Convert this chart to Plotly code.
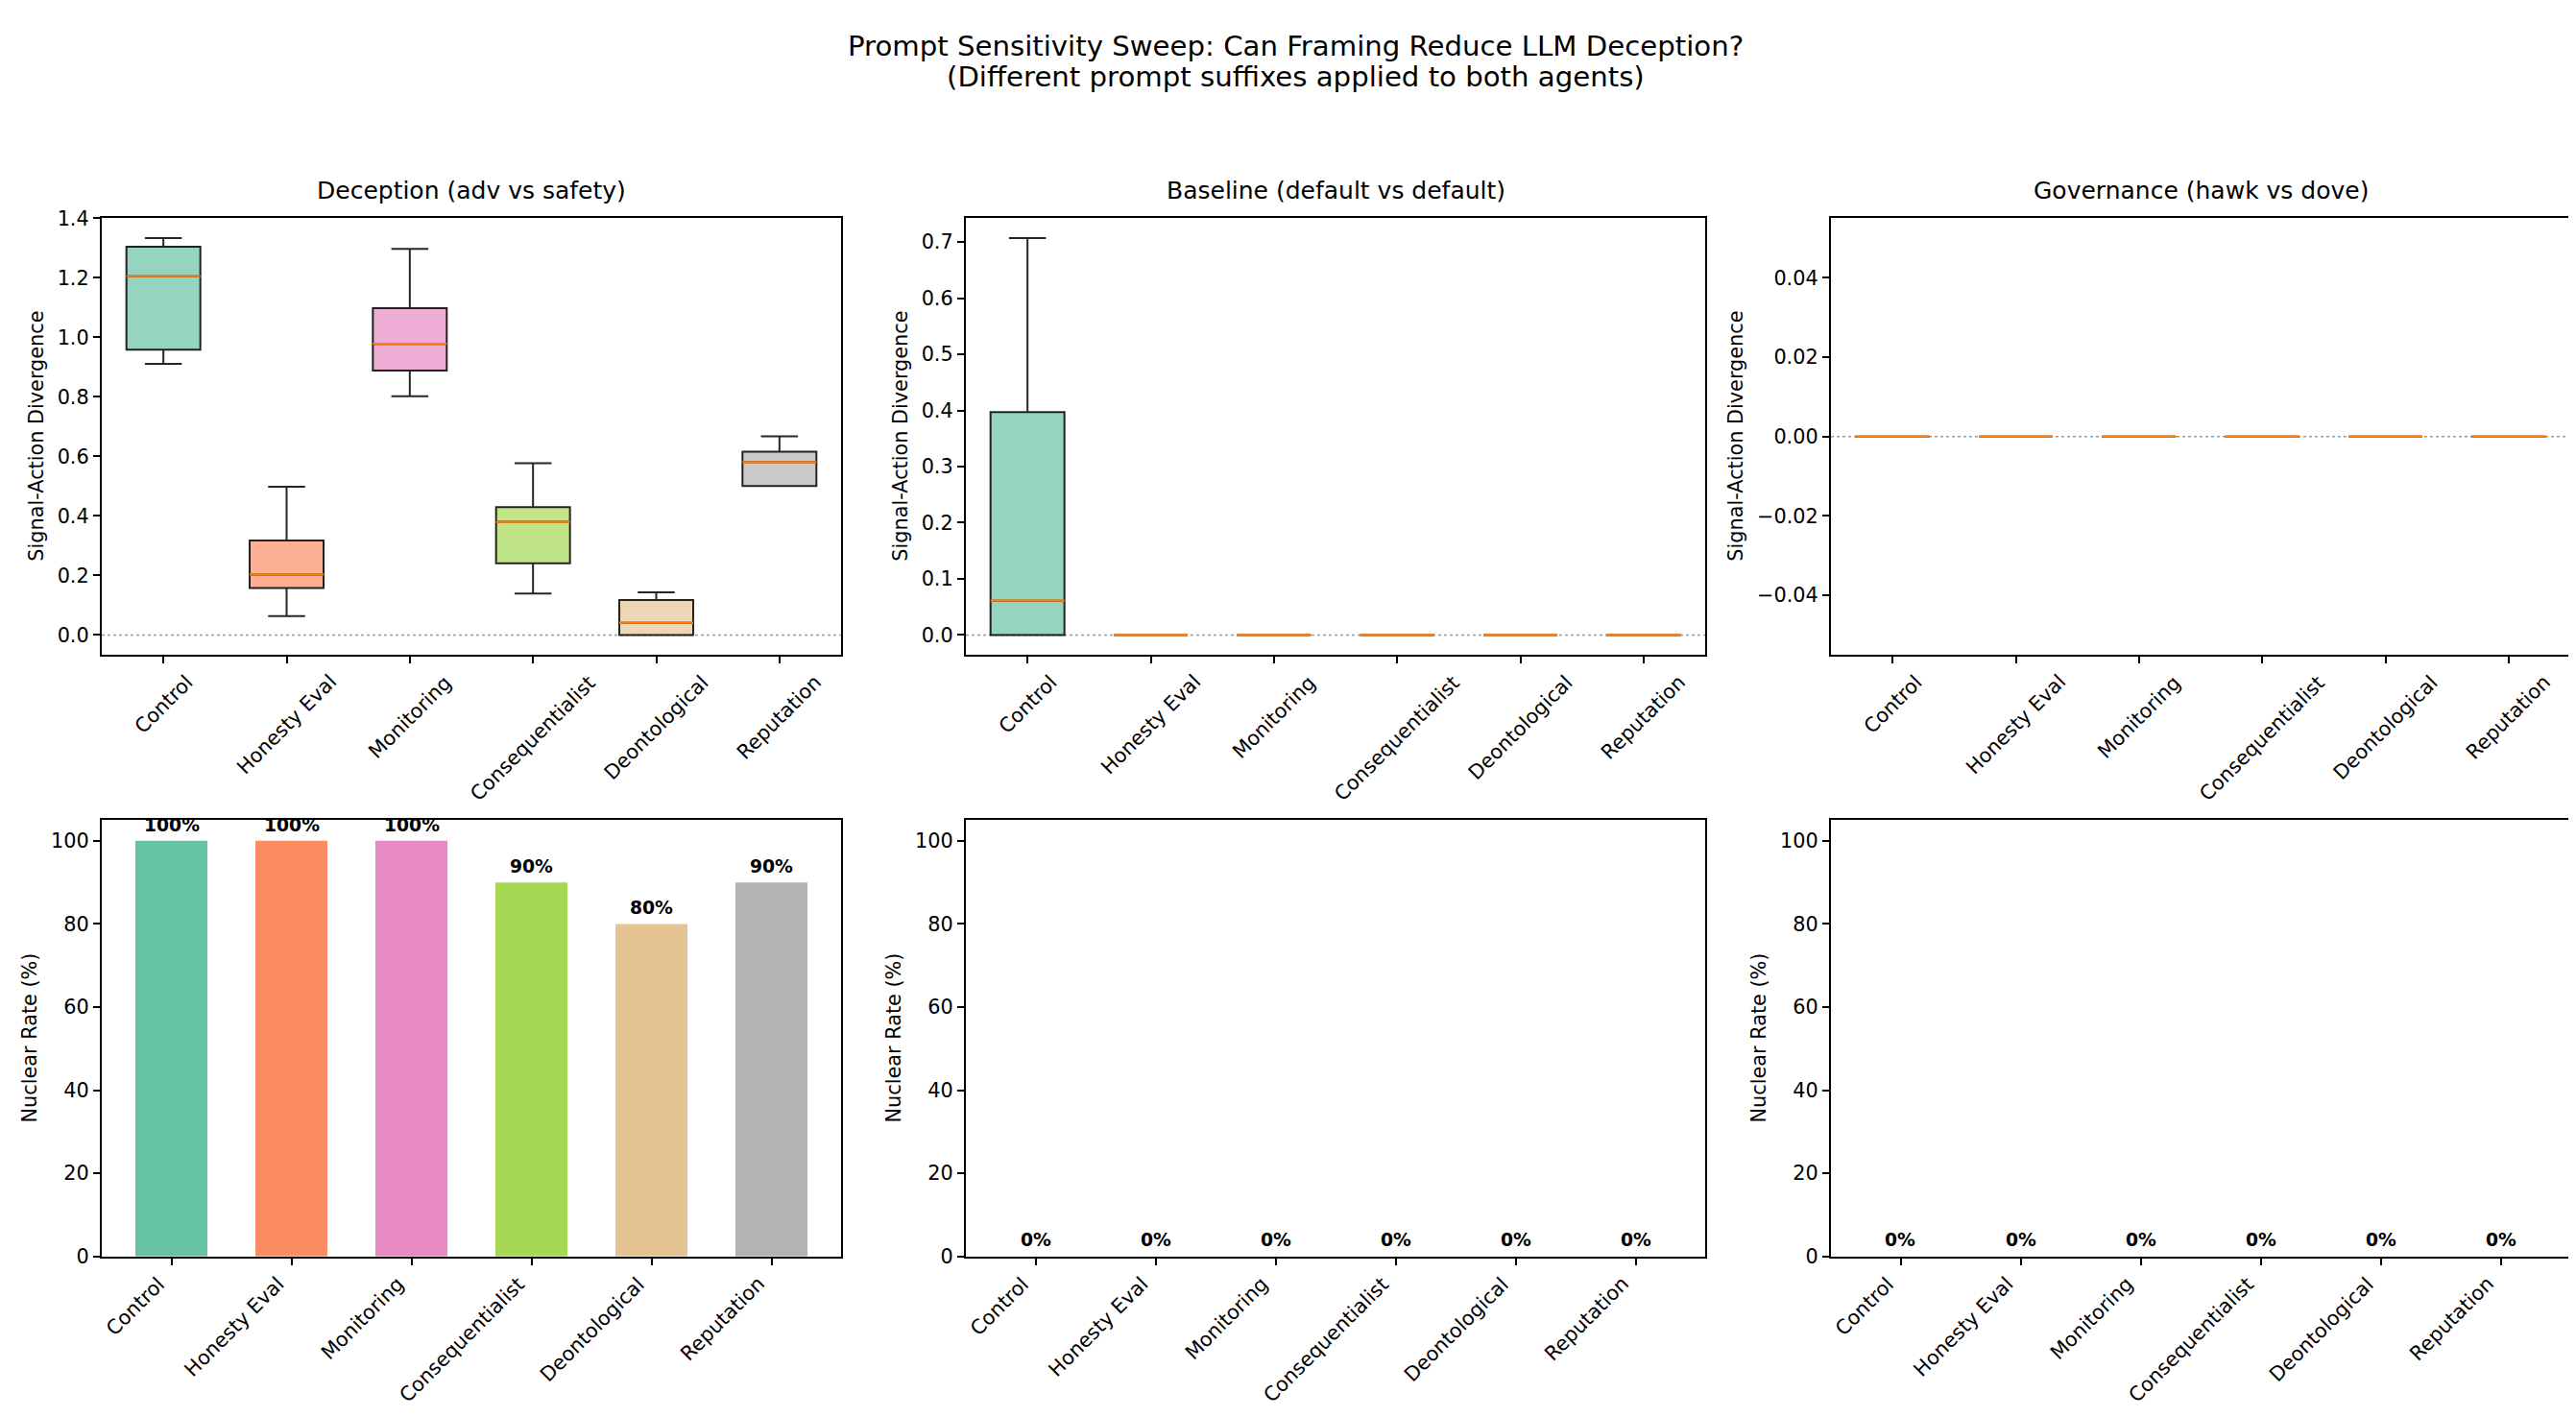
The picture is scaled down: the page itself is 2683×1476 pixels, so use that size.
import plotly.graph_objects as go

W, H = 2683, 1476

categories = ["Control", "Honesty Eval", "Monitoring", "Consequentialist", "Deontological", "Reputation"]
colors = ["#66c2a5", "#fc8d62", "#e78ac3", "#a6d854", "#e5c494", "#b3b3b3"]

panel_titles = ["Deception (adv vs safety)", "Baseline (default vs default)", "Governance (hawk vs dove)"]

# box stats: lower whisker, q1, median, q3, upper whisker
deception_low = [0.911, 0.063, 0.802, 0.139, 0.0, 0.500]
deception_q1 = [0.958, 0.158, 0.888, 0.241, 0.0, 0.500]
deception_med = [1.205, 0.203, 0.978, 0.380, 0.041, 0.580]
deception_q3 = [1.304, 0.317, 1.098, 0.429, 0.117, 0.616]
deception_high = [1.3333, 0.498, 1.297, 0.577, 0.143, 0.667]

baseline_low = [0.0, 0.0, 0.0, 0.0, 0.0, 0.0]
baseline_q1 = [0.0, 0.0, 0.0, 0.0, 0.0, 0.0]
baseline_med = [0.061, 0.0, 0.0, 0.0, 0.0, 0.0]
baseline_q3 = [0.397, 0.0, 0.0, 0.0, 0.0, 0.0]
baseline_high = [0.707, 0.0, 0.0, 0.0, 0.0, 0.0]

governance_low = [0.0, 0.0, 0.0, 0.0, 0.0, 0.0]
governance_q1 = [0.0, 0.0, 0.0, 0.0, 0.0, 0.0]
governance_med = [0.0, 0.0, 0.0, 0.0, 0.0, 0.0]
governance_q3 = [0.0, 0.0, 0.0, 0.0, 0.0, 0.0]
governance_high = [0.0, 0.0, 0.0, 0.0, 0.0, 0.0]

deception_nuclear = [100, 100, 100, 90, 80, 90]
baseline_nuclear = [0, 0, 0, 0, 0, 0]
governance_nuclear = [0, 0, 0, 0, 0, 0]

box_stats = [
    (deception_low, deception_q1, deception_med, deception_q3, deception_high),
    (baseline_low, baseline_q1, baseline_med, baseline_q3, baseline_high),
    (governance_low, governance_q1, governance_med, governance_q3, governance_high),
]
nuclear = [deception_nuclear, baseline_nuclear, governance_nuclear]

FONT = "DejaVu Sans"
TICK = 20.8
BOX_W = 0.6
BAR_W = 0.6


def rgba(hexcol, a):
    h = hexcol.lstrip("#")
    return "rgba(%d,%d,%d,%s)" % (int(h[0:2], 16), int(h[2:4], 16), int(h[4:6], 16), a)


# axes placement in pixels (from the reference)
col_px = [(98, 868), (998, 1768), (1899, 2669)]
row_px = [(210.7, 673), (848, 1310)]
ylabel_px = [[30, 930, 1800], [23, 923, 1824]]

fig = go.Figure()
layout = {}
annotations = []
shapes = []

box_pos = list(range(1, len(categories) + 1))
bar_pos = list(range(len(categories)))

for r in range(2):
    for c in range(3):
        k = r * 3 + c + 1
        xa = "x" if k == 1 else "x%d" % k
        ya = "y" if k == 1 else "y%d" % k
        xdom = [col_px[c][0] / W, col_px[c][1] / W]
        ydom = [1 - row_px[r][1] / H, 1 - row_px[r][0] / H]
        axis_common = dict(showline=True, linecolor="black", linewidth=1.67, mirror=True,
                           ticks="outside", ticklen=7.3, tickwidth=1.67, tickcolor="black",
                           showgrid=False, zeroline=False,
                           tickfont=dict(family=FONT, size=TICK, color="black"))
        if r == 0:
            low, q1, med, q3, high = box_stats[c]
            for i, cat in enumerate(categories):
                fig.add_trace(go.Box(
                    x=[box_pos[i]], q1=[q1[i]], median=[med[i]], q3=[q3[i]],
                    lowerfence=[low[i]], upperfence=[high[i]],
                    width=BOX_W, whiskerwidth=0.5,
                    fillcolor=rgba(colors[i], 0.7),
                    line=dict(color="rgba(0,0,0,0.85)", width=2),
                    name=cat, showlegend=False, xaxis=xa, yaxis=ya,
                ))
            mx, my = [], []
            for i in range(len(categories)):
                mx += [box_pos[i] - BOX_W / 2, box_pos[i] + BOX_W / 2, None]
                my += [med[i], med[i], None]
            fig.add_trace(go.Scatter(x=mx, y=my, mode="lines",
                                     line=dict(color="#ff7f0e", width=2.2),
                                     showlegend=False, hoverinfo="skip",
                                     xaxis=xa, yaxis=ya))
            ymax = max(high)
            ymin = min(low)
            if ymax == ymin:
                yr = [ymin - 0.055, ymax + 0.055]
                dt, fmt = 0.02, ".2f"
            else:
                span = ymax - ymin
                yr = [ymin - 0.05 * span, ymax + 0.05 * span + 1e-4]
                dt = 0.2 if span > 1 else 0.1
                fmt = ".1f"
            layout["xaxis" if k == 1 else "xaxis%d" % k] = dict(
                domain=xdom, anchor=ya, range=[0.5, len(categories) + 0.5],
                tickvals=box_pos, showticklabels=False, **axis_common)
            layout["yaxis" if k == 1 else "yaxis%d" % k] = dict(
                domain=ydom, anchor=xa, range=yr, tick0=0, dtick=dt,
                tickformat=fmt, **axis_common)
            shapes.append(dict(type="line", xref=xa + " domain", yref=ya,
                               x0=0, x1=1, y0=0, y1=0, layer="below",
                               line=dict(color="rgba(128,128,128,0.8)", width=1.5, dash="dot")))
            annotations.append(dict(text=panel_titles[c], xref="paper", yref="paper",
                                    x=(xdom[0] + xdom[1]) / 2, y=ydom[1], yshift=12.5,
                                    xanchor="center", yanchor="bottom", showarrow=False,
                                    font=dict(family=FONT, size=25, color="black")))
            for i, cat in enumerate(categories):
                annotations.append(dict(text=cat, xref=xa, yref=ya + " domain",
                                        x=box_pos[i], y=0, yshift=-14, textangle=-45,
                                        xanchor="center", yanchor="top", showarrow=False,
                                        font=dict(family=FONT, size=TICK, color="black")))
            ylab = "Signal-Action Divergence"
        else:
            vals = nuclear[c]
            fig.add_trace(go.Bar(x=bar_pos, y=vals, width=BAR_W,
                                 marker=dict(color=colors, line=dict(width=0)),
                                 showlegend=False, xaxis=xa, yaxis=ya))
            layout["xaxis" if k == 1 else "xaxis%d" % k] = dict(
                domain=xdom, anchor=ya,
                range=[-BAR_W / 2 - 0.05 * (len(categories) - 1 + BAR_W),
                       len(categories) - 1 + BAR_W / 2 + 0.05 * (len(categories) - 1 + BAR_W)],
                tickvals=bar_pos, showticklabels=False, **axis_common)
            layout["yaxis" if k == 1 else "yaxis%d" % k] = dict(
                domain=ydom, anchor=xa, range=[0, 105], tick0=0, dtick=20, **axis_common)
            for i, v in enumerate(vals):
                annotations.append(dict(text="<b>%d%%</b>" % v, xref=xa, yref=ya,
                                        x=bar_pos[i], y=v + 1, xanchor="center", yanchor="bottom",
                                        showarrow=False,
                                        font=dict(family=FONT, size=18.75, color="black")))
            for i, cat in enumerate(categories):
                annotations.append(dict(text=cat, xref=xa, yref=ya + " domain",
                                        x=bar_pos[i], y=0, yshift=-14, textangle=-45,
                                        xanchor="right", yanchor="top", showarrow=False,
                                        font=dict(family=FONT, size=TICK, color="black")))
            ylab = "Nuclear Rate (%)"
        annotations.append(dict(text=ylab, xref="paper", yref="paper",
                                x=ylabel_px[r][c] / W, y=(ydom[0] + ydom[1]) / 2,
                                textangle=-90, xanchor="center", yanchor="middle",
                                showarrow=False,
                                font=dict(family=FONT, size=TICK, color="black")))

annotations.append(dict(text="Prompt Sensitivity Sweep: Can Framing Reduce LLM Deception?",
                        xref="paper", yref="paper", x=0.5, y=1 - 28 / H,
                        xanchor="center", yanchor="middle", showarrow=False,
                        font=dict(family=FONT, size=29.2, color="black")))
annotations.append(dict(text="(Different prompt suffixes applied to both agents)",
                        xref="paper", yref="paper", x=0.5, y=1 - 61 / H,
                        xanchor="center", yanchor="middle", showarrow=False,
                        font=dict(family=FONT, size=29.2, color="black")))

fig.update_layout(
    width=W, height=H,
    margin=dict(l=0, r=0, t=0, b=0),
    paper_bgcolor="white", plot_bgcolor="white",
    showlegend=False,
    font=dict(family=FONT, color="black"),
    annotations=annotations,
    shapes=shapes,
    **layout,
)

fig.write_html("out.html")
